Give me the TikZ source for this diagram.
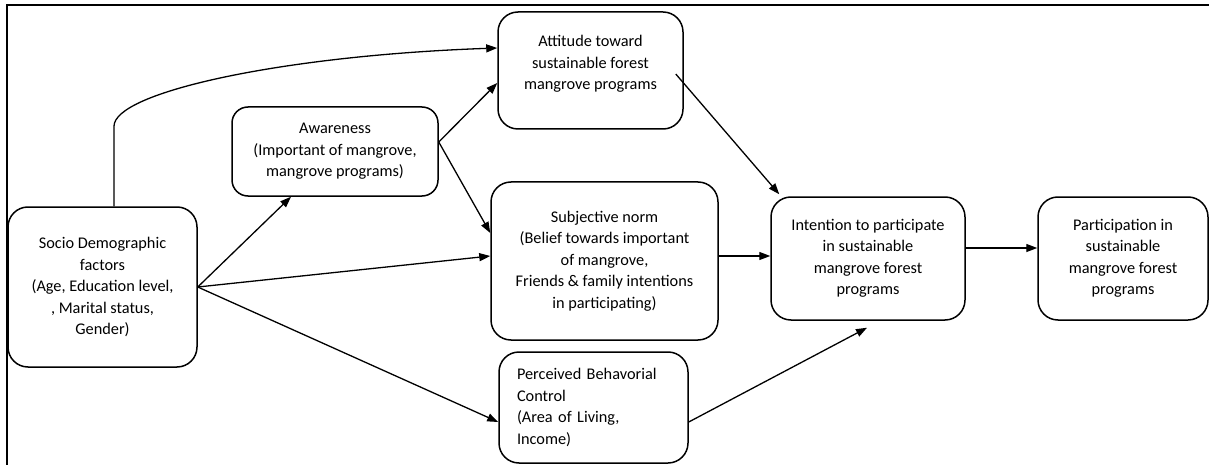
\documentclass[tikz,border=0pt]{standalone}
\usepackage{fontspec}
\setmainfont{Carlito}
\usetikzlibrary{arrows.meta,calc}
\begin{document}
\begin{tikzpicture}[x=1pt,y=-1pt,
  box/.style={draw,line width=1.5pt,rounded corners=20pt,align=center,inner sep=0pt,
    font=\fontsize{16.3pt}{21.5pt}\selectfont},
  conn/.style={line width=1.3pt,-{Triangle[length=11pt,width=8pt]}},
  plain/.style={line width=1.3pt}]
\useasboundingbox (0,0) rectangle (1209,465);
\draw[line width=2pt] (7,465) -- (7,5) -- (1209,5);

\node[box,minimum width=189pt,minimum height=160pt] (soc) at (102.5,287)
  {Socio Demographic\\factors\\(Age, Education level,\\, Marital status,\\Gender)};
\node[box,rounded corners=16pt,minimum width=206pt,minimum height=89pt] (awa) at (335,151.5)
  {Awareness\\(Important of mangrove,\\mangrove programs)};
\node[box,minimum width=185pt,minimum height=117pt,
  label={[font=\fontsize{16.3pt}{21.5pt}\selectfont,align=center,yshift=6.5pt]center:Attitude toward\\sustainable forest\\mangrove programs}] (att) at (590.5,70.5) {};
\node[box,minimum width=227pt,minimum height=158pt] (sub) at (604.5,261)
  {Subjective norm\\(Belief towards important\\of mangrove,\\Friends \& family intentions\\in participating)};
\node[box,align=left,text width=153pt,inner xsep=18pt,minimum width=189pt,minimum height=111pt] (per) at (593.5,407.5)
  {Perceived Behavorial\\Control\\(Area of Living,\\Income)};
\node[box,minimum width=194pt,minimum height=123pt] (int) at (868,258.5)
  {Intention to participate\\in sustainable\\mangrove forest\\programs};
\node[box,minimum width=170pt,minimum height=123pt] (par) at (1123,258.5)
  {Participation in\\sustainable\\mangrove forest\\programs};

\draw[conn] ($(soc.north)+(11.5,0)$) -- ($(soc.north)+(11.5,-80)$)
  .. controls ($(soc.north)+(11.5,-114)$) and ($(att.west)+(-215,-15)$) .. ($(att.west)+(0,-22.5)$);
\draw[conn] (soc.east) -- ($(awa.south)+(-44,0)$);
\draw[conn] (soc.east) -- ($(sub.west)+(0,-5)$);
\draw[conn] (soc.east) -- ($(per.west)+(0,14.5)$);
\draw[conn] ($(awa.east)+(0,-9.5)$) -- ($(att.west)+(0,12.5)$);
\draw[conn] ($(awa.east)+(0,-9.5)$) -- ($(sub.west)+(0,-28)$);
\draw[conn] ($(att.east)+(-8,3.5)$) -- ($(int.north west)+(9,-2)$);
\draw[conn] ($(sub.east)+(0,-5)$) -- ($(int.west)+(0,-2.5)$);
\draw[conn] ($(per.east)+(0,14.5)$) -- ($(int.south)+(-1,7)$);
\draw[conn] ($(int.east)+(0,-10.5)$) -- ($(par.west)+(0,-10.5)$);
\end{tikzpicture}
\end{document}
